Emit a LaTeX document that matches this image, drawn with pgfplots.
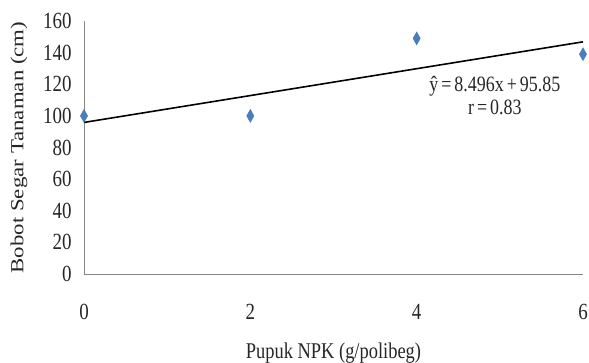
\documentclass[border=0pt]{standalone}
\usepackage{pgfplots}
\pgfplotsset{compat=1.18}
\usepackage{fontspec}
\setmainfont{Liberation Serif}
\definecolor{mk}{RGB}{74,126,187}
\definecolor{ax}{RGB}{134,134,134}
\newcommand{\tall}[1]{\scalebox{1}[1.22]{#1}}
\begin{document}
\begin{tikzpicture}
\useasboundingbox (-84bp,-89bp) rectangle (505bp,274bp);
\begin{axis}[
  scale only axis,
  width=499bp, height=253bp,
  xmin=0, xmax=6, ymin=0, ymax=160,
  axis x line=bottom, axis y line=left,
  axis line style={ax, -, line width=1pt},
  xtick={0,2,4,6}, ytick={0,20,...,160},
  xticklabel={\tall{\pgfmathprintnumber{\tick}}},
  yticklabel={\tall{\pgfmathprintnumber{\tick}}},
  major tick length=0pt,
  clip=false,
  /pgf/number format/assume math mode=true,
  ticklabel style={font=\fontsize{19}{21}\selectfont, text=black!85},
  xticklabel style={yshift=-27bp},
  yticklabel style={xshift=-9bp},
  xlabel={\tall{Pupuk NPK (g/polibeg)}},
  ylabel={\scalebox{1.24}[1]{Bobot Segar Tanaman (cm)}},
  label style={font=\fontsize{18.5}{21}\selectfont, text=black!85},
  xlabel style={yshift=-16bp},
  ylabel style={yshift=9bp},
]
\addplot[only marks, mark=diamond*, mark size=6.5bp, mark options={mk, fill=mk, xscale=0.75}] coordinates {(0,100) (2,100) (4,149) (6,139)};
\addplot[black, line width=1.6pt] coordinates {(0,95.85) (6,146.826)};
\node[font=\fontsize{18}{20}\selectfont, align=center, text=black!85, inner sep=0pt] at (axis cs:4.94,113) {\tall{ŷ\,=\,8.496x\,+\,95.85}\\[3pt]\tall{r\,=\,0.83}};
\end{axis}
\end{tikzpicture}
\end{document}
